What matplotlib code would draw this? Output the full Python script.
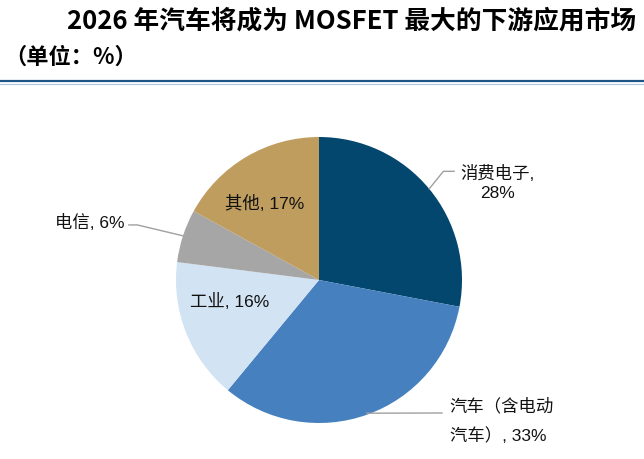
import matplotlib
matplotlib.use("Agg")
import matplotlib.pyplot as plt
import numpy as np

plt.rcParams['font.family'] = ['Noto Sans CJK SC', 'DejaVu Sans']
LBL_FAMILY = ['Liberation Sans', 'Noto Sans CJK SC', 'DejaVu Sans']

title = "2026 年汽车将成为 MOSFET 最大的下游应用市场"
subtitle = "（单位：%）"
categories = ["消费电子", "汽车（含电动汽车）", "工业", "电信", "其他"]
values = [28, 33, 16, 6, 17]
colors = ["#03466E", "#4680BF", "#D2E3F3", "#A6A6A6", "#BF9D5E"]

W, H = 644, 460
fig = plt.figure(figsize=(W / 100, H / 100), dpi=100)

# title
fig.text(636 / W, 1 - 21 / H, title, ha='right', va='center', fontsize=18.5,
         fontweight='bold', color='black')
fig.text(4 / W, 1 - 57 / H, subtitle, ha='left', va='center', fontsize=16,
         fontweight='bold', color='black')
fig.add_artist(plt.Line2D([0, 1], [1 - 82 / H, 1 - 82 / H], color='#1E5585', lw=1.6))
fig.add_artist(plt.Line2D([0, 1], [1 - 84.5 / H, 1 - 84.5 / H], color='#A9C4DC', lw=0.8))

# pie axes: center (319, 281) px from top, radius 143 px
cx, cy, R = 319, 281, 143
box = 300
ax = fig.add_axes([(cx - box / 2) / W, (H - cy - box / 2) / H, box / W, box / H])

wedges, _ = ax.pie(values, colors=colors, startangle=90, counterclock=False,
                   radius=1.0, wedgeprops=dict(linewidth=0))
lim = box / 2 / R
ax.set_xlim(-lim, lim)
ax.set_ylim(-lim, lim)
ax.set_aspect('equal')
ax.axis('off')

def mid_angle(w):
    return np.deg2rad((w.theta1 + w.theta2) / 2)

fs = 12.5
lc = '#A0A0A0'
tkw = dict(fontsize=fs, family=LBL_FAMILY, color='#111111')

# 消费电子
a = mid_angle(wedges[0])
p0 = (np.cos(a), np.sin(a))
p1 = (0.87, 0.76)
p2 = (0.945, 0.76)
ax.plot([p0[0], p1[0], p2[0]], [p0[1], p1[1], p2[1]], color=lc, lw=1, clip_on=False)
ax.text(1.25, 0.685, f"{categories[0]},\n{values[0]}%", ha='center', va='center',
        multialignment='center', linespacing=1.35, **tkw)

# 汽车
a = mid_angle(wedges[1])
p0 = (np.cos(a) * 0.99, np.sin(a) * 0.99)
p1 = (0.86, -0.93)
ax.plot([p0[0], p1[0]], [p0[1], p1[1]], color=lc, lw=1, clip_on=False)
ax.text(0.915, -0.98, "汽车（含电动\n汽车）, 33%", ha='left', va='center',
        linespacing=1.9, **tkw)

# 电信
a = mid_angle(wedges[3])
p0 = (np.cos(a), np.sin(a))
p1 = (-1.27, 0.385)
p2 = (-1.33, 0.385)
ax.plot([p0[0], p1[0], p2[0]], [p0[1], p1[1], p2[1]], color=lc, lw=1, clip_on=False)
ax.text(-1.36, 0.41, f"{categories[3]}, {values[3]}%", ha='right', va='center', **tkw)

# inside labels
ax.text(-0.378, 0.545, f"{categories[4]}, {values[4]}%", ha='center', va='center', **tkw)
ax.text(-0.625, -0.145, f"{categories[2]}, {values[2]}%", ha='center', va='center', **tkw)

fig.savefig("out.png", dpi=100)
